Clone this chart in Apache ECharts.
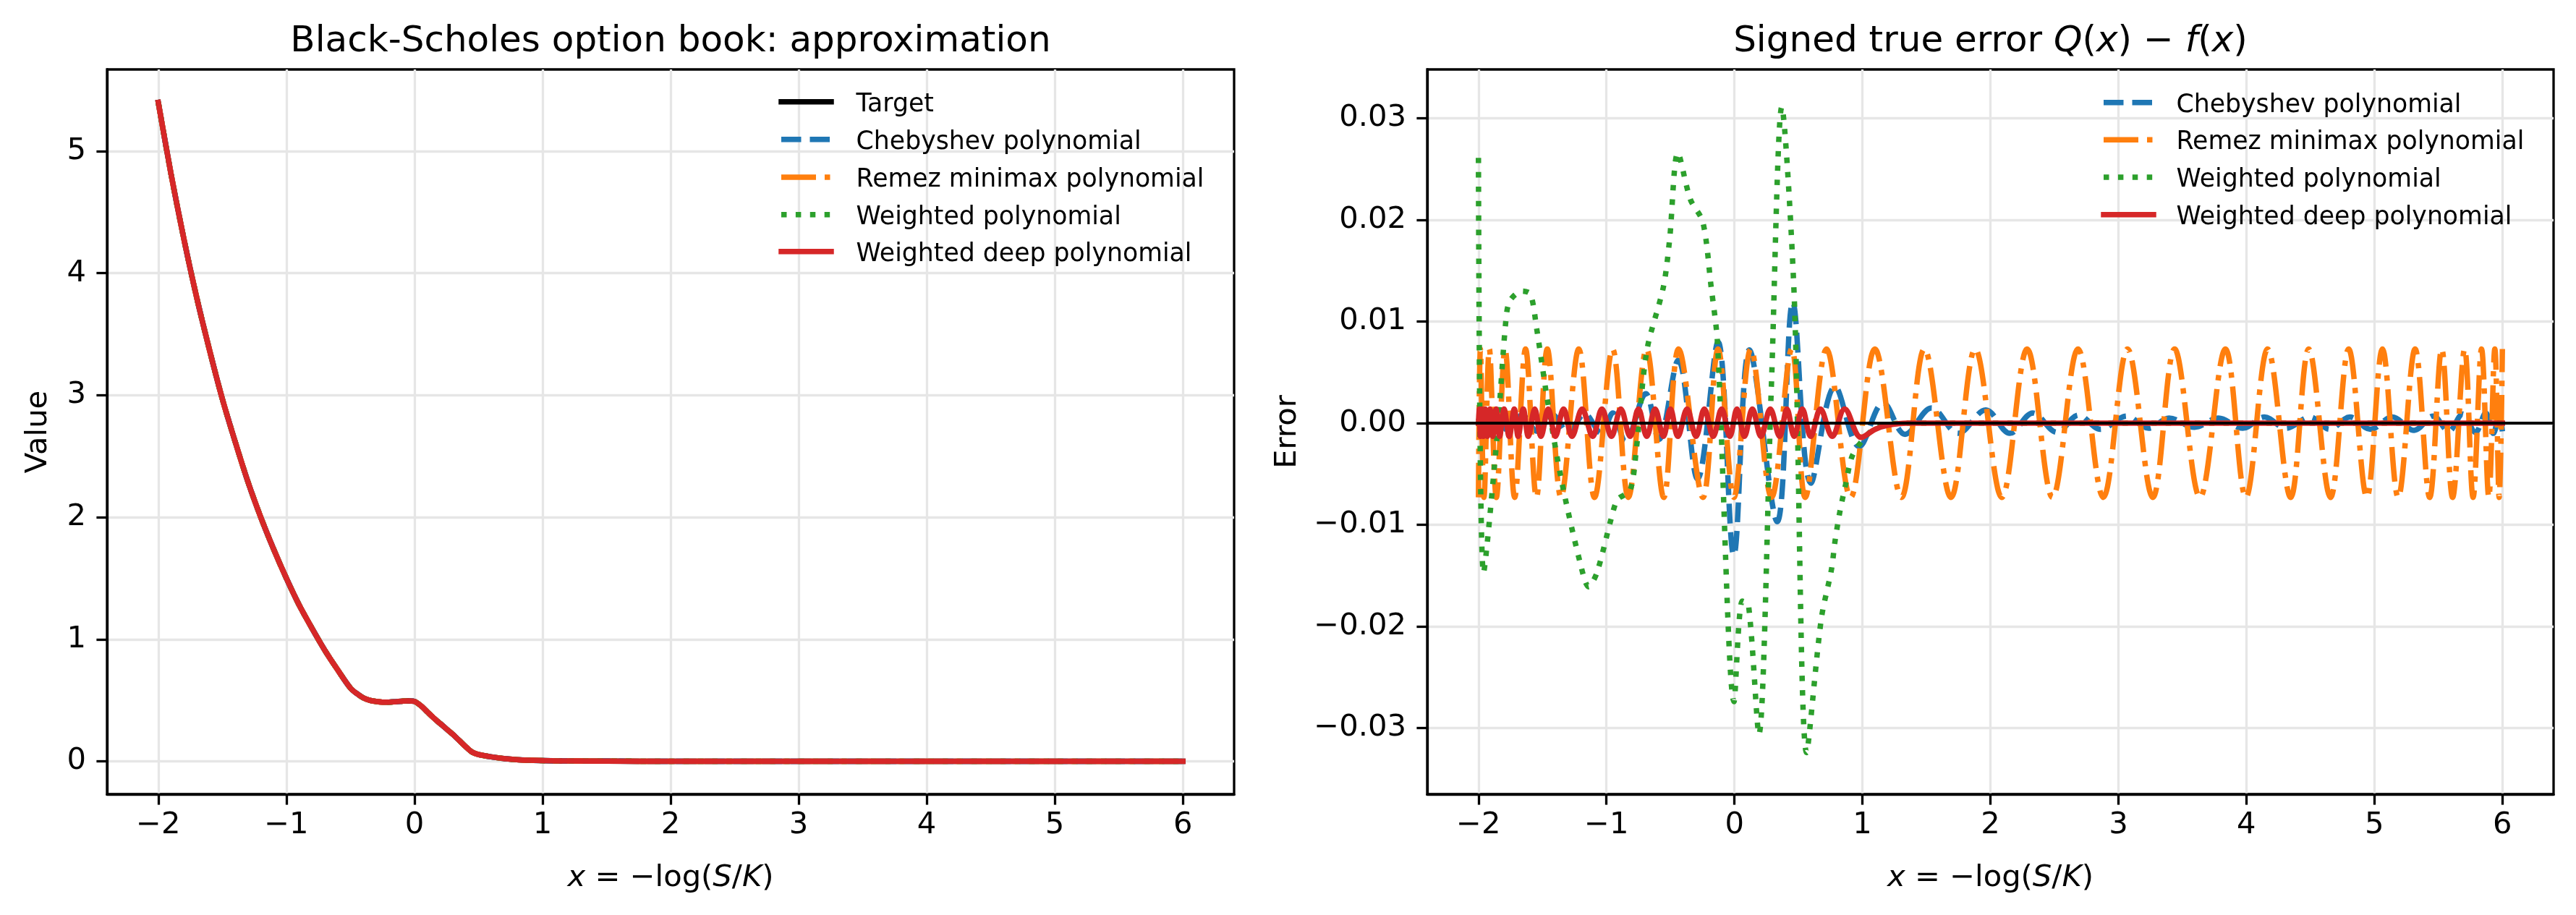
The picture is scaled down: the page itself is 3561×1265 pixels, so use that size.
<!DOCTYPE html>
<html><head><meta charset="utf-8">
<script src="https://cdn.jsdelivr.net/npm/echarts@6/dist/echarts.min.js"></script>
<style>html,body{margin:0;padding:0;background:#fff;}#c{width:3561px;height:1265px;}</style>
</head><body><div id="c"></div>
<script>
// ---------- data ----------
const xTicks = [-2, -1, 0, 1, 2, 3, 4, 5, 6];
const valueTicks = [0, 1, 2, 3, 4, 5];
const errorTicks = [-0.03, -0.02, -0.01, 0, 0.01, 0.02, 0.03];

const seriesNames = ['Target', 'Chebyshev polynomial', 'Remez minimax polynomial', 'Weighted polynomial', 'Weighted deep polynomial'];

// Left panel: target value f(x)
const targetX = [-2.0,-1.9,-1.8,-1.7,-1.6,-1.5,-1.4,-1.3,-1.2,-1.1,-1.0,-0.9,-0.8,-0.7,-0.6,-0.5,-0.45,-0.4,-0.35,-0.3,-0.25,-0.2,-0.15,-0.1,-0.05,0.0,0.05,0.1,0.15,0.2,0.25,0.3,0.35,0.4,0.45,0.5,0.6,0.7,0.8,0.9,1.0,1.25,1.5,2.0,3.0,4.0,5.0,6.0];
const targetY = [5.40,4.81,4.28,3.80,3.37,2.97,2.62,2.29,2.00,1.74,1.50,1.28,1.09,0.91,0.75,0.60,0.555,0.52,0.50,0.49,0.485,0.485,0.488,0.492,0.495,0.49,0.455,0.405,0.355,0.31,0.265,0.22,0.17,0.12,0.075,0.055,0.036,0.022,0.013,0.008,0.005,0.002,0.001,0.0,0.0,0.0,0.0,0.0];

// Right panel: signed errors Q(x) - f(x)
const chebX = [-2.0,-1.95,-1.87,-1.77,-1.66,-1.54,-1.42,-1.30,-1.17,-1.04,-0.95,-0.853,-0.693,-0.590,-0.439,-0.288,-0.128,-0.005,0.117,0.334,0.456,0.597,0.786,0.975,1.163,1.333,1.540,1.747,1.964,2.152,2.331,2.520,2.689,2.859,3.066,3.236,3.396,3.594,3.782,3.971,4.140,4.310,4.498,4.649,4.809,4.969,5.139,5.310,5.460,5.580,5.690,5.790,5.870,5.930,5.975,6.0];
const chebErr = [0.0005,-0.0006,0.0007,-0.0007,0.0008,-0.0008,0.0008,-0.0009,0.0009,-0.0010,0.0010,-0.0018,0.0029,-0.0016,0.0062,-0.0055,0.0080,-0.0130,0.0072,-0.0097,0.0119,-0.0059,0.0036,-0.0023,0.0020,-0.0011,0.0015,-0.0010,0.0013,-0.0010,0.0010,-0.0009,0.0008,-0.0006,0.0007,-0.0005,0.0005,-0.0004,0.0005,-0.0005,0.0006,-0.0005,0.0006,-0.0006,0.0006,-0.0006,0.0006,-0.0007,0.0007,-0.0008,0.0009,-0.0009,0.0010,-0.0010,0.0010,-0.0008];

const remezX = [-2.0,-1.985,-1.957,-1.915,-1.86,-1.792,-1.717,-1.632,-1.547,-1.462,-1.355,-1.216,-1.093,-0.952,-0.829,-0.687,-0.552,-0.436,-0.246,-0.128,-0.004,0.128,0.29,0.448,0.553,0.72,0.908,1.097,1.305,1.484,1.692,1.881,2.089,2.287,2.485,2.684,2.882,3.071,3.269,3.439,3.637,3.836,3.996,4.166,4.346,4.487,4.657,4.799,4.941,5.063,5.186,5.318,5.432,5.526,5.611,5.705,5.771,5.837,5.894,5.941,5.975,6.0];
const remezErr = [-0.0073,0.0073,-0.0073,0.0073,-0.0073,0.0073,-0.0073,0.0073,-0.0073,0.0073,-0.0073,0.0073,-0.0073,0.0073,-0.0073,0.0073,-0.0073,0.0073,-0.0073,0.0073,-0.0073,0.0073,-0.0073,0.0073,-0.0073,0.0073,-0.0073,0.0073,-0.0073,0.0073,-0.0073,0.0073,-0.0073,0.0073,-0.0073,0.0073,-0.0073,0.0073,-0.0073,0.0073,-0.0073,0.0073,-0.0073,0.0073,-0.0073,0.0073,-0.0073,0.0073,-0.0073,0.0073,-0.0073,0.0073,-0.0073,0.0073,-0.0073,0.0073,-0.0073,0.0073,-0.0073,0.0073,-0.0073,0.0073];

const weightedX = [-2.0,-1.96,-1.853,-1.788,-1.756,-1.658,-1.594,-1.545,-1.464,-1.35,-1.204,-1.139,-1.074,-0.961,-0.912,-0.815,-0.766,-0.685,-0.555,-0.507,-0.442,-0.344,-0.247,-0.182,-0.133,-0.003,0.061,0.110,0.191,0.288,0.370,0.467,0.564,0.678,0.758,0.786,0.824,0.871,0.918,0.993,1.1,1.3,2.0,3.0,4.0,5.0,6.0];
const weightedErr = [0.0261,-0.0147,-0.0011,0.0098,0.0120,0.0130,0.0127,0.0093,0.0025,-0.0057,-0.0138,-0.0161,-0.0147,-0.0093,-0.0075,-0.0066,-0.0025,0.0071,0.0134,0.0180,0.0266,0.0220,0.0198,0.0134,0.0080,-0.0274,-0.0175,-0.0179,-0.0306,0.0034,0.0311,0.0125,-0.0324,-0.0193,-0.0144,-0.0116,-0.0087,-0.0059,-0.0033,-0.0018,-0.0005,0.0,0.0,0.0,0.0,0.0,0.0];

const deepX = [-2.0,-1.993,-1.985,-1.975,-1.962,-1.947,-1.93,-1.91,-1.888,-1.862,-1.835,-1.80,-1.76,-1.72,-1.69,-1.65,-1.61,-1.56,-1.512,-1.455,-1.399,-1.335,-1.269,-1.19,-1.107,-1.035,-0.961,-0.888,-0.815,-0.75,-0.685,-0.62,-0.555,-0.50,-0.442,-0.37,-0.30,-0.235,-0.166,-0.10,-0.036,0.02,0.078,0.14,0.207,0.28,0.353,0.41,0.467,0.53,0.596,0.672,0.765,0.861,0.99,1.1,1.2,1.35,2.0,6.0];
const deepErr = [0.0,0.0014,-0.0013,0.0014,-0.0013,0.0014,-0.0013,0.0014,-0.0013,0.0014,-0.0013,0.0014,-0.0013,0.0014,-0.0013,0.0014,-0.0013,0.0014,-0.0013,0.0014,-0.0013,0.0014,-0.0013,0.0014,-0.0013,0.0014,-0.0013,0.0014,-0.0013,0.0014,-0.0013,0.0014,-0.0013,0.0014,-0.0013,0.0014,-0.0013,0.0014,-0.0013,0.0014,-0.0013,0.0014,-0.0013,0.0014,-0.0013,0.0014,-0.0013,0.0014,-0.0013,0.0014,-0.0013,0.0014,-0.0013,0.0014,-0.0014,-0.0006,-0.0002,0.0,0.0,0.0];

// ---------- styling ----------
const FONT = 'DejaVu Sans';
const C = {target:'#000000', cheb:'#1f77b4', remez:'#ff7f0e', weighted:'#2ca02c', deep:'#d62728'};
const LW = 7.5;
const DASH = {cheb:[27.5, 12], remez:[48, 12, 7.5, 12], weighted:[7.5, 12.4]};
const G = [{left:148, top:96, width:1558, height:1002}, {left:1973, top:96, width:1557, height:1002}];
const zip = (xs, ys) => xs.map((x, i) => [x, ys[i]]);
const minus = s => String(s).replace('-', '\u2212');

function xAxis(gi) {
  return {
    gridIndex: gi, type: 'value', min: -2.4, max: 6.4,
    axisLine: {show: true, onZero: false, lineStyle: {color: '#000', width: 3.3}},
    axisTick: {show: true, inside: false, length: 14.6, lineStyle: {color: '#000', width: 3.3}, customValues: xTicks},
    axisLabel: {customValues: xTicks, color: '#000', fontFamily: FONT, fontSize: 41.7, margin: 22, formatter: v => minus(Math.round(v))},
    splitLine: {show: true, lineStyle: {color: '#e6e6e6', width: 3.3}}
  };
}
function yAxis(gi, min, max, ticks, fmt) {
  return {
    gridIndex: gi, type: 'value', min: min, max: max,
    axisLine: {show: true, onZero: false, lineStyle: {color: '#000', width: 3.3}},
    axisTick: {show: true, inside: false, length: 14.6, lineStyle: {color: '#000', width: 3.3}, customValues: ticks},
    axisLabel: {customValues: ticks, color: '#000', fontFamily: FONT, fontSize: 41.7, margin: 29, formatter: fmt},
    splitLine: {show: true, lineStyle: {color: '#e6e6e6', width: 3.3}}
  };
}
function lineSeries(gi, name, data, color, dash, smooth, extra) {
  return Object.assign({
    type: 'line', name: name, xAxisIndex: gi, yAxisIndex: gi, data: data,
    symbol: 'none', showSymbol: false, smooth: smooth, animation: false, silent: true,
    lineStyle: {color: color, width: LW, type: dash || 'solid', cap: dash ? 'butt' : 'square', join: 'round'}
  }, extra || {});
}

const targetData = zip(targetX, targetY);
const series = [
  lineSeries(0, seriesNames[0], targetData, C.target, null, 0.3),
  lineSeries(0, seriesNames[1], targetData, C.cheb, DASH.cheb, 0.3),
  lineSeries(0, seriesNames[2], targetData, C.remez, DASH.remez, 0.3),
  lineSeries(0, seriesNames[3], targetData, C.weighted, DASH.weighted, 0.3),
  lineSeries(0, seriesNames[4], targetData, C.deep, null, 0.3),
  lineSeries(1, seriesNames[1], zip(chebX, chebErr), C.cheb, DASH.cheb, 0.36, {
    markLine: {silent: true, symbol: ['none', 'none'], label: {show: false}, animation: false,
      lineStyle: {color: '#000', width: 4, type: 'solid'}, data: [{yAxis: 0}]}
  }),
  lineSeries(1, seriesNames[2], zip(remezX, remezErr), C.remez, DASH.remez, 0.36),
  lineSeries(1, seriesNames[3], zip(weightedX, weightedErr), C.weighted, DASH.weighted, 0.3),
  lineSeries(1, seriesNames[4], zip(deepX, deepErr), C.deep, null, 0.36)
];

// ---------- text & legends ----------
const rich = (size) => ({
  n: {fontFamily: FONT, fontSize: size, fill: '#000'},
  i: {fontFamily: FONT, fontSize: size, fontStyle: 'italic', fill: '#000'}
});
const graphic = [];
function text(x, y, t, size, opts) {
  graphic.push(Object.assign({type: 'text', z: 100, x: x, y: y, style: Object.assign({text: t, fontFamily: FONT, fontSize: size, fill: '#000', align: 'center', verticalAlign: 'middle'}, (opts && opts.style) || {})}, (opts && opts.el) || {}));
}
text(927, 58, 'Black-Scholes option book: approximation', 50);
graphic.push({type: 'text', z: 100, x: 2751.5, y: 58, style: {text: '{n|Signed true error }{i|Q}{n|(}{i|x}{n|) \u2212 }{i|f}{n|(}{i|x}{n|)}', rich: rich(50), align: 'center', verticalAlign: 'middle'}});
graphic.push({type: 'text', z: 100, x: 927, y: 1214, style: {text: '{i|x}{n| = \u2212log(}{i|S}{n|/}{i|K}{n|)}', rich: rich(41.7), align: 'center', verticalAlign: 'middle'}});
graphic.push({type: 'text', z: 100, x: 2751.5, y: 1214, style: {text: '{i|x}{n| = \u2212log(}{i|S}{n|/}{i|K}{n|)}', rich: rich(41.7), align: 'center', verticalAlign: 'middle'}});
text(53, 597, 'Value', 41.7, {el: {rotation: Math.PI / 2}});
text(1780, 597, 'Error', 41.7, {el: {rotation: Math.PI / 2}});

function legend(x0, textX, rows, entries) {
  entries.forEach((e, k) => {
    const y = rows[k];
    graphic.push({type: 'line', z: 100, shape: {x1: x0, y1: y, x2: x0 + 69, y2: y},
      style: {stroke: e.color, lineWidth: LW, lineDash: e.dash || null, lineCap: e.dash ? 'butt' : 'square'}});
    graphic.push({type: 'text', z: 100, x: textX, y: y + 4, style: {text: e.name, fontFamily: FONT, fontSize: 34.7, fill: '#000', align: 'left', verticalAlign: 'middle'}});
  });
}
legend(1080, 1183.6, [140.7, 192.7, 245, 296.7, 347.7], [
  {name: seriesNames[0], color: C.target},
  {name: seriesNames[1], color: C.cheb, dash: DASH.cheb},
  {name: seriesNames[2], color: C.remez, dash: DASH.remez},
  {name: seriesNames[3], color: C.weighted, dash: DASH.weighted},
  {name: seriesNames[4], color: C.deep}
]);
legend(2908, 3008.5, [141.7, 193.3, 245, 296.7], [
  {name: seriesNames[1], color: C.cheb, dash: DASH.cheb},
  {name: seriesNames[2], color: C.remez, dash: DASH.remez},
  {name: seriesNames[3], color: C.weighted, dash: DASH.weighted},
  {name: seriesNames[4], color: C.deep}
]);

const option = {
  backgroundColor: '#ffffff',
  animation: false,
  textStyle: {fontFamily: FONT},
  grid: G.map(g => Object.assign({show: true, borderColor: '#000', borderWidth: 3.3, backgroundColor: 'transparent'}, g)),
  xAxis: [xAxis(0), xAxis(1)],
  yAxis: [
    yAxis(0, -0.27, 5.67, valueTicks, v => minus(Math.round(v))),
    yAxis(1, -0.0365, 0.0348, errorTicks, v => (v < -1e-9 ? '\u2212' : '') + Math.abs(v).toFixed(2))
  ],
  series: series,
  graphic: graphic
};
const chart = echarts.init(document.getElementById('c'), null, {renderer: 'canvas', width: 3561, height: 1265});
chart.setOption(option);
</script></body></html>
